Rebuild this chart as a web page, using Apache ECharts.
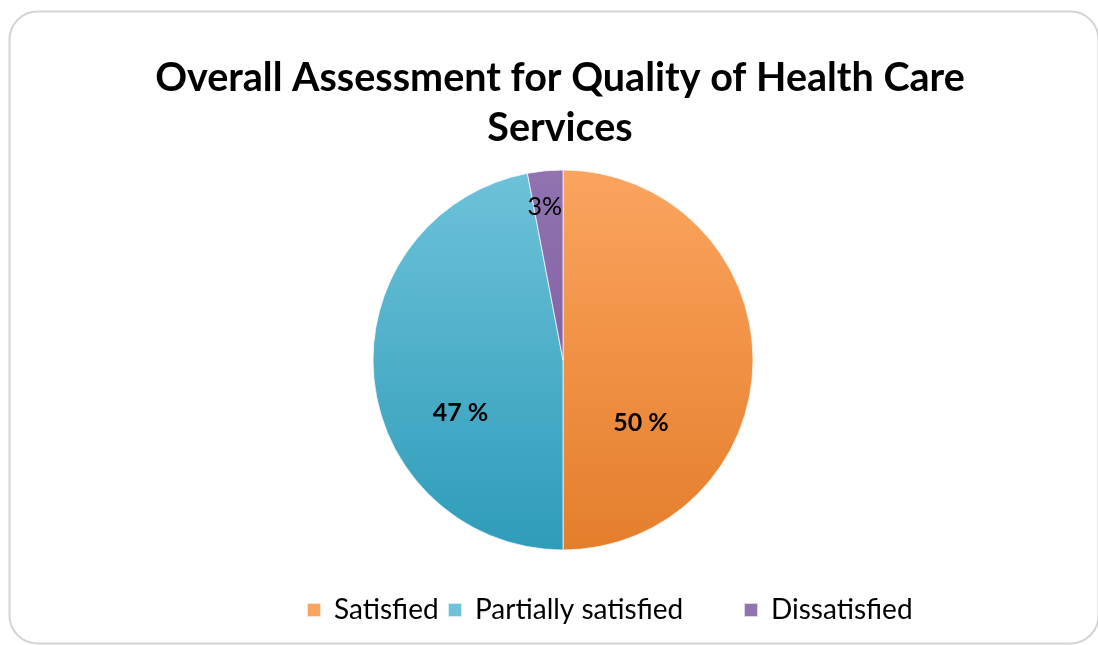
<!DOCTYPE html>
<html>
<head>
<meta charset="utf-8">
<script src="https://cdn.jsdelivr.net/npm/echarts@6/dist/echarts.min.js"></script>
<style>html,body{margin:0;padding:0;background:#fff}#c{width:1098px;height:645px}</style>
</head>
<body>
<div id="c"></div>
<script>
const categories = ['Satisfied', 'Partially satisfied', 'Dissatisfied'];
const values = [50, 47, 3];
const labelTexts = ['50 %', '47 %', '3%'];
const titleText = 'Overall Assessment for Quality of Health Care\nServices';

const topColors = ['#fba45f', '#6dc2d9', '#9173b0'];
const bottomColors = ['#e47e2b', '#2f9cb9', '#77529a'];
const labelShift = [[-20, 63], [-5, 44], [-9, -55]];
const labelWeights = ['bold', 'bold', 'normal'];
const legendLefts = [306, 447, 743];

const chart = echarts.init(document.getElementById('c'), null, {renderer: 'canvas'});
const font = 'Lato, "Open Sans", sans-serif';
chart.setOption({
  backgroundColor: '#fff',
  animation: false,
  graphic: [{
    type: 'rect', left: 7, top: 9,
    shape: {width: 1089, height: 632, r: 28},
    style: {fill: 'none', stroke: '#d4d4d4', lineWidth: 2}
  }, {
    type: 'text', x: 560, y: 103,
    style: {
      text: titleText, textAlign: 'center', textVerticalAlign: 'middle',
      fontFamily: font, fontWeight: 'bold', fontSize: 39.5, lineHeight: 50, fill: '#000'
    }
  }],
  legend: categories.map((n, i) => ({
    data: [n], left: legendLefts[i], top: 595, padding: 0, icon: 'rect',
    itemWidth: 14, itemHeight: 14,
    textStyle: {fontFamily: font, fontSize: 28, lineHeight: 30, color: '#000', fontWeight: 'normal', padding: [0, 0, 0, 8]}
  })),
  series: [{
    type: 'pie', center: [563, 360], radius: 190, startAngle: 90, clockwise: true,
    itemStyle: {borderColor: 'rgba(255,255,255,0.7)', borderWidth: 1},
    label: {
      position: 'inside', fontFamily: font, fontWeight: 'bold', fontSize: 25, color: '#000',
      formatter: p => labelTexts[p.dataIndex]
    },
    labelLayout: p => ({dx: labelShift[p.dataIndex][0], dy: labelShift[p.dataIndex][1]}),
    emphasis: {disabled: true},
    data: categories.map((n, i) => ({
      name: n, value: values[i],
      label: {fontWeight: labelWeights[i]},
      itemStyle: {color: {type: 'linear', x: 0, y: 170, x2: 0, y2: 550, global: true,
        colorStops: [{offset: 0, color: topColors[i]}, {offset: 1, color: bottomColors[i]}]}}
    }))
  }]
});
</script>
</body>
</html>
